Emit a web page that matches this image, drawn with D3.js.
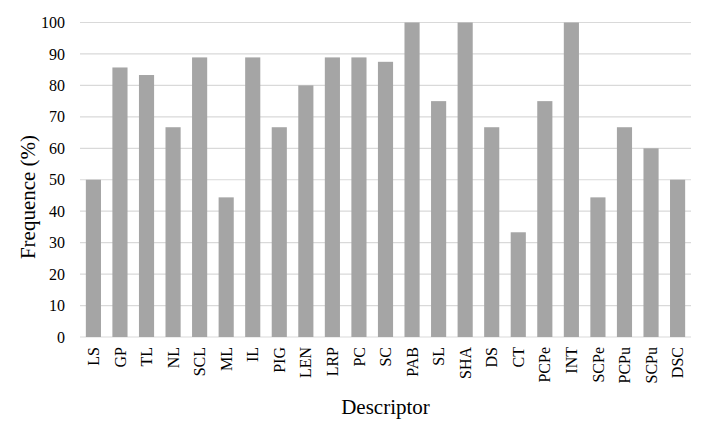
<!DOCTYPE html>
<html>
<head>
<meta charset="utf-8">
<script src="https://cdn.jsdelivr.net/npm/d3@7"></script>
<style>
  html, body { margin: 0; padding: 0; background: #ffffff; }
  svg { display: block; }
</style>
</head>
<body>
<script>
const categories = ["LS","GP","TL","NL","SCL","ML","IL","PIG","LEN","LRP","PC","SC","PAB","SL","SHA","DS","CT","PCPe","INT","SCPe","PCPu","SCPu","DSC"];
const values = [50, 85.7, 83.3, 66.7, 88.9, 44.4, 88.9, 66.7, 80, 88.9, 88.9, 87.5, 100, 75, 100, 66.7, 33.3, 75, 100, 44.4, 66.7, 60, 50];
const yTicks = [0,10,20,30,40,50,60,70,80,90,100];
const yTitle = "Frequence (%)";
const xTitle = "Descriptor";

const W = 709, H = 427;
const m = {left: 80, right: 18, top: 22.5, bottom: 90};
const FONT = "'Liberation Serif', 'Times New Roman', Times, serif";

const svg = d3.select("body").append("svg")
  .attr("width", W).attr("height", H)
  .style("font-family", FONT);

const x = d3.scaleBand().domain(categories).range([m.left, W - m.right]).paddingInner(0.43).paddingOuter(0.22);
const y = d3.scaleLinear().domain([0, 100]).range([H - m.bottom, m.top]);

// gridlines
svg.append("g").selectAll("line").data(yTicks).join("line")
  .attr("x1", m.left).attr("x2", W - m.right)
  .attr("y1", d => y(d)).attr("y2", d => y(d))
  .attr("stroke", "#d9d9d9").attr("stroke-width", 1.2);

// bars
svg.append("g").selectAll("rect").data(values).join("rect")
  .attr("x", (d, i) => x(categories[i]))
  .attr("width", x.bandwidth())
  .attr("y", d => y(d))
  .attr("height", d => y(0) - y(d))
  .attr("fill", "#a5a5a5");

// y tick labels
svg.append("g").selectAll("text").data(yTicks).join("text")
  .attr("x", m.left - 15).attr("y", d => y(d)).attr("dy", "0.35em")
  .attr("text-anchor", "end").attr("fill", "#000")
  .style("font-size", "16px")
  .text(d => d);

// x tick labels, rotated to read bottom-to-top
svg.append("g").selectAll("text").data(categories).join("text")
  .attr("transform", d => `translate(${x(d) + x.bandwidth() / 2},${y(0) + 10}) rotate(-90)`)
  .attr("text-anchor", "end").attr("dy", "0.35em").attr("fill", "#000")
  .style("font-size", "16px")
  .text(d => d);

// axis titles
svg.append("text").attr("transform", "translate(35,197) rotate(-90)")
  .attr("text-anchor", "middle").attr("fill", "#000")
  .style("font-size", "21px")
  .text(yTitle);
svg.append("text").attr("x", (m.left + W - m.right) / 2).attr("y", 414)
  .attr("text-anchor", "middle").attr("fill", "#000")
  .style("font-size", "21px")
  .text(xTitle);
</script>
</body>
</html>
